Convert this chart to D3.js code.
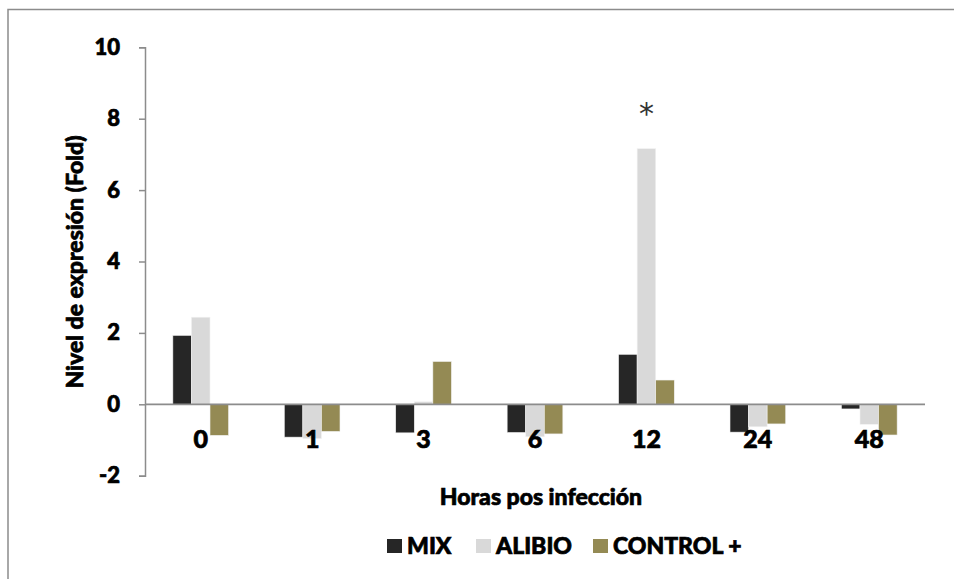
<!DOCTYPE html>
<html>
<head>
<meta charset="utf-8">
<script src="https://cdn.jsdelivr.net/npm/d3@7/dist/d3.min.js"></script>
<style>
  html, body { margin: 0; padding: 0; background: #fff; }
  svg { display: block; }
  text.bold { font-family: Lato, "Open Sans", sans-serif; font-weight: 900; fill: #000; stroke: #000; stroke-width: 0.7px; }
</style>
</head>
<body>
<svg id="chart" width="954" height="579"></svg>
<script>
const categories = ["0", "1", "3", "6", "12", "24", "48"];
const seriesNames = ["MIX", "ALIBIO", "CONTROL +"];
const mixValues     = [1.93, -0.92, -0.80, -0.79, 1.40, -0.78, -0.13];
const alibioValues  = [2.44, -0.96,  0.07, -0.91, 7.16, -0.63, -0.56];
const controlValues = [-0.87, -0.76, 1.20, -0.83, 0.68, -0.55, -0.86];
const seriesColors = ["#262626", "#d9d9d9", "#948a54"];
const yTicks = [-2, 0, 2, 4, 6, 8, 10];
const significance = [{ category: "12", series: "ALIBIO", label: "*" }];

const seriesValues = [mixValues, alibioValues, controlValues];
const svg = d3.select("#chart");

// outer frame
svg.append("rect").attr("x", 8).attr("y", 9.5).attr("width", 960).attr("height", 600)
  .attr("fill", "none").attr("stroke", "#8c8c8c").attr("stroke-width", 1.5);

const x = d3.scaleBand().domain(categories).range([145, 925]).paddingInner(0).paddingOuter(0);
const x1 = d3.scaleBand().domain(seriesNames).range([0, x.bandwidth()]).paddingInner(0).paddingOuter(1.5);
const y = d3.scaleLinear().domain([-2, 10]).range([475.7, 47.3]);

// y axis
const yAxis = d3.axisLeft(y).tickValues(yTicks).tickSize(6).tickPadding(19).tickFormat(d => String(d));
const gy = svg.append("g").attr("transform", "translate(145,0)").call(yAxis);
gy.select(".domain").attr("stroke", "#8c8c8c").attr("stroke-width", 1.5);
gy.selectAll(".tick line").attr("stroke", "#8c8c8c").attr("stroke-width", 1.5);
gy.selectAll(".tick text").attr("class", "bold").style("font-size", "22px").attr("fill", "#000");

// bars
const groups = svg.append("g").selectAll("g").data(categories).join("g")
  .attr("transform", d => `translate(${x(d)},0)`);
groups.selectAll("rect").data((c, i) => seriesNames.map((s, j) => ({ s, j, v: seriesValues[j][i] })))
  .join("rect")
  .attr("x", d => x1(d.s))
  .attr("width", x1.bandwidth())
  .attr("y", d => y(Math.max(0, d.v)))
  .attr("height", d => Math.abs(y(d.v) - y(0)))
  .attr("fill", d => seriesColors[d.j])
  .attr("stroke", "#f2f2f2").attr("stroke-width", 0.6);

// zero line
svg.append("line").attr("x1", 145).attr("x2", 925).attr("y1", y(0)).attr("y2", y(0))
  .attr("stroke", "#8c8c8c").attr("stroke-width", 1.8);

// category labels
svg.append("g").selectAll("text").data(categories).join("text")
  .attr("class", "bold")
  .attr("x", d => x(d) + x.bandwidth() / 2)
  .attr("y", 448)
  .attr("text-anchor", "middle")
  .style("font-size", "25px")
  .text(d => d);

// significance marks
svg.append("g").selectAll("text").data(significance).join("text")
  .attr("x", d => x(d.category) + x1(d.series) + x1.bandwidth() / 2)
  .attr("y", 124)
  .attr("text-anchor", "middle")
  .style("font-size", "30px").style("font-weight", 400).style("font-family", "DejaVu Sans")
  .attr("fill", "#333")
  .text(d => d.label);

// axis titles
svg.append("text").attr("class", "bold").attr("x", 541).attr("y", 504.5).attr("text-anchor", "middle")
  .style("font-size", "23px").text("Horas pos infección");
svg.append("text").attr("class", "bold").attr("transform", "translate(83,262) rotate(-90)").attr("text-anchor", "middle")
  .style("font-size", "23px").text("Nivel de expresión (Fold)");

// legend
const legendX = [387, 476, 593];
const lg = svg.append("g").selectAll("g").data(seriesNames).join("g")
  .attr("transform", (d, i) => `translate(${legendX[i]},539)`);
lg.append("rect").attr("width", 15).attr("height", 14).attr("fill", (d, i) => seriesColors[i]);
lg.append("text").attr("class", "bold").attr("x", 20).attr("y", 15).style("font-size", "23px").text(d => d);
</script>
</body>
</html>
